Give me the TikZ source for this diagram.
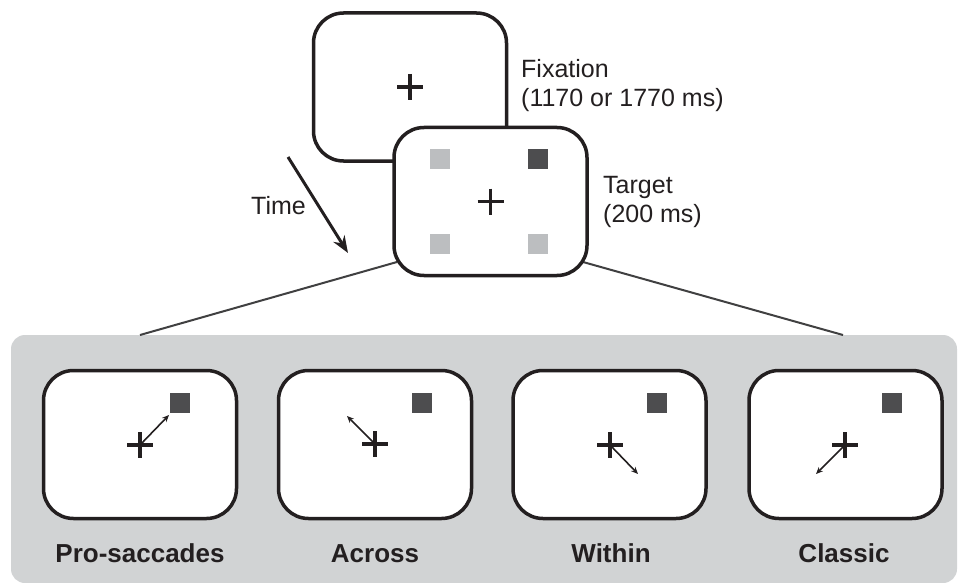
\documentclass[tikz,border=0pt]{standalone}
\usepackage{fontspec}
\setmainfont{Liberation Sans}
\usetikzlibrary{calc,arrows.meta}
\definecolor{ink}{HTML}{231F20}
\definecolor{panelgray}{HTML}{D1D3D4}
\definecolor{lightsq}{HTML}{BCBEC0}
\definecolor{darksq}{HTML}{4D4D4F}
\definecolor{linkgray}{HTML}{404041}
\newcommand\mycross[1]{\draw[crossline] ($(#1)+(-13,0)$) -- ($(#1)+(13,0)$) ($(#1)+(0,-13)$) -- ($(#1)+(0,13)$);}
\begin{document}
\begin{tikzpicture}[x=1pt,y=-1pt,
  screen/.style={draw=ink,line width=3.5pt,fill=white,rounded corners=30pt,
    minimum width=193pt,minimum height=148pt,inner sep=0pt},
  crossline/.style={draw=ink,line width=3.5pt},
  sqlight/.style={fill=lightsq,minimum size=20pt,inner sep=0pt},
  sqdark/.style={fill=darksq,minimum size=20pt,inner sep=0pt},
  caption/.style={text=ink,font=\fontsize{25}{29}\selectfont,anchor=base west,inner sep=0pt},
  condlabel/.style={text=ink,font=\fontsize{26}{30}\selectfont\bfseries,anchor=base,inner sep=0pt},
  saccade/.style={draw=ink,line width=1.6pt,-{Stealth[length=7pt,width=6pt]}},
  link/.style={draw=linkgray,line width=2pt}]
\useasboundingbox (0,0) rectangle (958,583);
% grey panel
\node[fill=panelgray,rounded corners=14pt,minimum width=946pt,minimum height=248pt,inner sep=0pt] (panel) at (484,459) {};
% connectors from target screen to the panel
\coordinate (lstart) at (397,262);
\coordinate (lend) at (140,335);
\coordinate (rstart) at (583,262);
\coordinate (rend) at (843,335);
\draw[link] (lstart) -- (lend);
\draw[link] (rstart) -- (rend);
% fixation screen
\node[screen] (fix) at (410,87) {};
\mycross{fix.center}
\node[caption] (fixA) at (521,78) {Fixation};
\node[caption] (fixB) at (521,107) {(1170 or 1770 ms)};
% target screen
\node[screen] (tgt) at (490.5,201.5) {};
\node[sqlight] (t1) at (440,159) {};
\node[sqdark]  (t2) at (538,159) {};
\node[sqlight] (t3) at (440,244) {};
\node[sqlight] (t4) at (538,244) {};
\mycross{tgt.center}
\node[caption] (tgA) at (603,193) {Target};
\node[caption] (tgB) at (603,222) {(200 ms)};
% time arrow
\coordinate (tA) at (288,157);
\coordinate (tB) at (348,253);
\draw[draw=ink,line width=3pt,-{Stealth[length=17pt,width=13pt]}] (tA) -- (tB);
\node[text=ink,font=\fontsize{25}{29}\selectfont,anchor=base east,inner sep=0pt] (time) at (306,214) {Time};
% condition screens
\node[screen] (b1) at (140,444.5) {};
\node[screen] (b2) at (375,444.5) {};
\node[screen] (b3) at (609.5,444.5) {};
\node[screen] (b4) at (845.5,444.5) {};
\node[sqdark] (s1) at (180,403) {};
\node[sqdark] (s2) at (422,403) {};
\node[sqdark] (s3) at (657,403) {};
\node[sqdark] (s4) at (892,403) {};
\coordinate (c1) at (140,445);
\coordinate (c2) at (375,444);
\coordinate (c3) at (610,445);
\coordinate (c4) at (845,445);
\coordinate (e1) at (169,415);
\coordinate (e2) at (347,416);
\coordinate (e3) at (638,474);
\coordinate (e4) at (816,474);
\draw[saccade] (c1) -- (e1);
\draw[saccade] (c2) -- (e2);
\draw[saccade] (c3) -- (e3);
\draw[saccade] (c4) -- (e4);
\mycross{c1}
\mycross{c2}
\mycross{c3}
\mycross{c4}
\node[condlabel] (l1) at (140,562) {Pro-saccades};
\node[condlabel] (l2) at (375,562) {Across};
\node[condlabel] (l3) at (611,562) {Within};
\node[condlabel] (l4) at (844,562) {Classic};
\end{tikzpicture}
\end{document}
